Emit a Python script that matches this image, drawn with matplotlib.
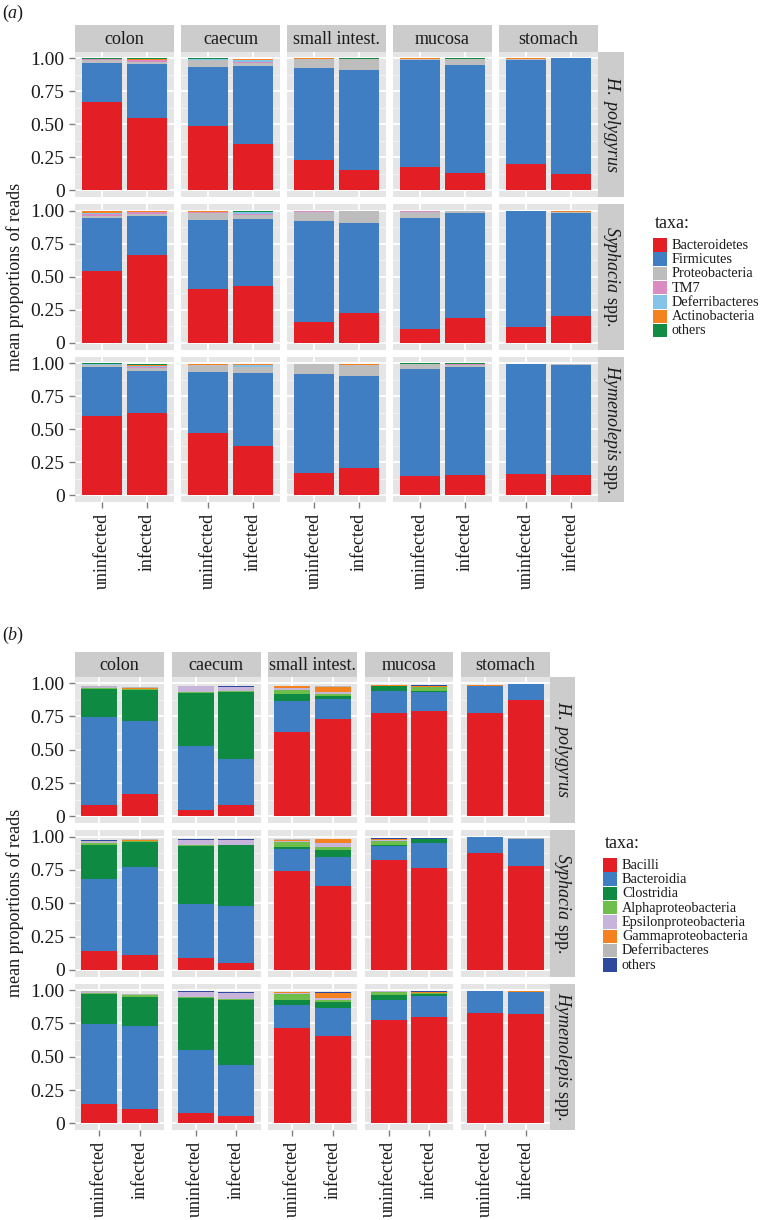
import matplotlib
matplotlib.use("Agg")
import matplotlib.pyplot as plt
from matplotlib.patches import Rectangle

plt.rcParams["font.family"] = ["Liberation Serif", "DejaVu Serif"]
plt.rcParams["mathtext.fontset"] = "custom"
plt.rcParams["mathtext.rm"] = "Liberation Serif"
plt.rcParams["mathtext.it"] = "Liberation Serif:italic"

# ---------------- categories ----------------
sites = ["colon", "caecum", "small intest.", "mucosa", "stomach"]
status = ["uninfected", "infected"]
host_labels = [r"$\mathit{H.\ polygyrus}$", r"$\mathit{Syphacia}$ spp.", r"$\mathit{Hymenolepis}$ spp."]
y_ticks = [0, 0.25, 0.5, 0.75, 1.0]
y_tick_labels = ["0", "0.25", "0.50", "0.75", "1.00"]

# ---------------- panel (a): phyla ----------------
# order of each list: host (H. polygyrus, Syphacia, Hymenolepis) x site (colon, caecum, small intest., mucosa, stomach) x (uninfected, infected)
taxa_a = ["Bacteroidetes", "Firmicutes", "Proteobacteria", "TM7", "Deferribacteres", "Actinobacteria", "others"]
colors_a = ["#E31E24", "#3F7EC2", "#BDBDBD", "#DA8CC0", "#86C3E8", "#F3821F", "#128B43"]
a_bacteroidetes = [0.667, 0.550, 0.485, 0.348, 0.230, 0.152, 0.174, 0.134, 0.200, 0.121,
                   0.540, 0.664, 0.410, 0.432, 0.160, 0.226, 0.108, 0.191, 0.118, 0.200,
                   0.600, 0.620, 0.468, 0.375, 0.169, 0.207, 0.144, 0.154, 0.164, 0.154]
a_firmicutes = [0.298, 0.405, 0.449, 0.591, 0.694, 0.757, 0.811, 0.816, 0.785, 0.877,
                0.403, 0.298, 0.520, 0.503, 0.765, 0.684, 0.835, 0.794, 0.880, 0.785,
                0.367, 0.322, 0.466, 0.549, 0.750, 0.699, 0.813, 0.813, 0.829, 0.828]
a_proteobacteria = [0.020, 0.015, 0.050, 0.025, 0.066, 0.084, 0.010, 0.043, 0.012, 0.001,
                    0.020, 0.012, 0.055, 0.035, 0.068, 0.084, 0.050, 0.009, 0.001, 0.007,
                    0.018, 0.020, 0.050, 0.045, 0.072, 0.078, 0.035, 0.022, 0.003, 0.010]
a_tm7 = [0.005, 0.012, 0.004, 0.008, 0.002, 0.001, 0.001, 0.001, 0.000, 0.000,
         0.015, 0.012, 0.003, 0.003, 0.001, 0.001, 0.001, 0.001, 0.000, 0.000,
         0.004, 0.010, 0.002, 0.003, 0.001, 0.002, 0.001, 0.001, 0.000, 0.000]
a_deferribacteres = [0.000, 0.003, 0.004, 0.015, 0.000, 0.000, 0.000, 0.000, 0.000, 0.000,
                     0.007, 0.004, 0.003, 0.015, 0.000, 0.000, 0.000, 0.000, 0.000, 0.000,
                     0.002, 0.004, 0.002, 0.010, 0.000, 0.000, 0.000, 0.000, 0.000, 0.000]
a_actinobacteria = [0.005, 0.010, 0.003, 0.004, 0.006, 0.003, 0.003, 0.001, 0.001, 0.000,
                    0.010, 0.004, 0.004, 0.003, 0.004, 0.003, 0.002, 0.004, 0.000, 0.003,
                    0.005, 0.010, 0.002, 0.008, 0.004, 0.006, 0.002, 0.002, 0.001, 0.002]
a_others = [0.005, 0.003, 0.003, 0.004, 0.001, 0.002, 0.001, 0.004, 0.001, 0.000,
            0.005, 0.005, 0.002, 0.006, 0.001, 0.001, 0.004, 0.001, 0.000, 0.000,
            0.004, 0.004, 0.007, 0.003, 0.001, 0.001, 0.003, 0.006, 0.000, 0.000]
series_a = [a_bacteroidetes, a_firmicutes, a_proteobacteria, a_tm7, a_deferribacteres, a_actinobacteria, a_others]

# ---------------- panel (b): classes ----------------
taxa_b = ["Bacilli", "Bacteroidia", "Clostridia", "Alphaproteobacteria", "Epsilonproteobacteria",
          "Gammaproteobacteria", "Deferribacteres", "others"]
colors_b = ["#E31E24", "#3F7EC2", "#0F8A43", "#6DBE4B", "#C6B4DA", "#F3821F", "#B8B8B8", "#2E4A9E"]
b_bacilli = [0.0875, 0.170, 0.050, 0.0875, 0.630, 0.730, 0.775, 0.7925, 0.7725, 0.870,
             0.140, 0.108, 0.088, 0.050, 0.744, 0.628, 0.824, 0.761, 0.874, 0.779,
             0.144, 0.108, 0.076, 0.058, 0.713, 0.655, 0.773, 0.796, 0.829, 0.819]
b_bacteroidia = [0.6575, 0.5425, 0.480, 0.345, 0.2325, 0.1525, 0.1675, 0.140, 0.2025, 0.1225,
                 0.540, 0.666, 0.407, 0.427, 0.161, 0.222, 0.106, 0.189, 0.121, 0.201,
                 0.602, 0.620, 0.471, 0.382, 0.176, 0.211, 0.151, 0.161, 0.163, 0.166]
b_clostridia = [0.210, 0.2325, 0.395, 0.5025, 0.055, 0.0175, 0.0325, 0.010, 0.004, 0.001,
                0.257, 0.188, 0.435, 0.458, 0.015, 0.050, 0.010, 0.030, 0.001, 0.001,
                0.224, 0.222, 0.393, 0.487, 0.035, 0.043, 0.036, 0.013, 0.001, 0.001]
b_alphaproteo = [0.010, 0.008, 0.005, 0.003, 0.0325, 0.020, 0.003, 0.025, 0.002, 0.000,
                 0.018, 0.006, 0.010, 0.005, 0.037, 0.020, 0.030, 0.002, 0.000, 0.001,
                 0.012, 0.010, 0.010, 0.005, 0.046, 0.015, 0.025, 0.010, 0.000, 0.001]
b_epsilonproteo = [0.003, 0.003, 0.045, 0.032, 0.010, 0.010, 0.001, 0.002, 0.000, 0.000,
                   0.003, 0.002, 0.035, 0.035, 0.008, 0.030, 0.005, 0.001, 0.000, 0.000,
                   0.002, 0.003, 0.035, 0.043, 0.012, 0.016, 0.005, 0.002, 0.000, 0.000]
b_gammaproteo = [0.002, 0.007, 0.001, 0.001, 0.015, 0.040, 0.004, 0.008, 0.004, 0.000,
                 0.002, 0.003, 0.001, 0.001, 0.010, 0.030, 0.008, 0.002, 0.000, 0.004,
                 0.001, 0.002, 0.001, 0.001, 0.002, 0.035, 0.001, 0.004, 0.000, 0.003]
b_deferribacteres = [0.005, 0.007, 0.001, 0.002, 0.003, 0.006, 0.001, 0.002, 0.002, 0.000,
                     0.007, 0.007, 0.001, 0.001, 0.004, 0.002, 0.002, 0.001, 0.000, 0.001,
                     0.005, 0.003, 0.001, 0.002, 0.002, 0.004, 0.002, 0.001, 0.000, 0.000]
b_others = [0.005, 0.002, 0.005, 0.007, 0.004, 0.005, 0.003, 0.004, 0.001, 0.000,
            0.005, 0.002, 0.005, 0.006, 0.004, 0.003, 0.005, 0.001, 0.000, 0.000,
            0.002, 0.005, 0.004, 0.007, 0.003, 0.006, 0.001, 0.003, 0.000, 0.000]
series_b = [b_bacilli, b_bacteroidia, b_clostridia, b_alphaproteo, b_epsilonproteo,
            b_gammaproteo, b_deferribacteres, b_others]

# ---------------- drawing ----------------
W, H = 761, 1220
fig = plt.figure(figsize=(W / 100, H / 100), dpi=100)

PANEL_BG = "#E5E5E5"
STRIP_BG = "#CCCCCC"
TEXT_C = "#1A1A1A"
TICK_C = "#7F7F7F"
FS = 13
YTICK_FS = 14
XTICK_FS = 13


def px_axes(x0, y0, w, h):
    return fig.add_axes([x0 / W, 1 - (y0 + h) / H, w / W, h / H])


def draw_panel(letter, letter_y, left, top, pw, gap, ph, vgap, strip_h, series, colors, taxa, leg_x, leg_y):
    fig.text(2 / W, 1 - letter_y / H, r"($\mathit{" + letter + "}$)", fontsize=FS, va="center", ha="left", color=TEXT_C)
    xs = [1, 2]
    for r in range(3):
        for c in range(5):
            x0 = left + c * (pw + gap)
            y0 = top + r * (ph + vgap)
            ax = px_axes(x0, y0, pw, ph)
            ax.set_facecolor(PANEL_BG)
            for s in ax.spines.values():
                s.set_visible(False)
            ax.set_xlim(0.4, 2.6)
            ax.set_ylim(-0.05, 1.05)
            ax.set_yticks(y_ticks)
            ax.set_yticks([0.125, 0.375, 0.625, 0.875], minor=True)
            ax.set_xticks(xs)
            ax.grid(which="major", color="white", lw=1.3)
            ax.grid(which="minor", axis="y", color="#F2F2F2", lw=0.7)
            ax.set_axisbelow(True)
            i0 = r * 10 + c * 2
            bottom = [0.0, 0.0]
            for vals, col in zip(series, colors):
                hts = vals[i0:i0 + 2]
                ax.bar(xs, hts, bottom=bottom, width=0.9, color=col, linewidth=0)
                bottom = [b + h for b, h in zip(bottom, hts)]
            ax.tick_params(which="minor", length=0)
            ax.tick_params(which="major", color=TICK_C, length=4.5, width=1.0,
                           labelcolor=TEXT_C, pad=3)
            ax.tick_params(axis="y", labelsize=YTICK_FS)
            ax.tick_params(axis="x", labelsize=XTICK_FS)
            if c == 0:
                ax.set_yticklabels(y_tick_labels)
            else:
                ax.tick_params(axis="y", length=0, labelleft=False)
            if r == 2:
                ax.set_xticklabels(status, rotation=90, va="top", ha="center")
            else:
                ax.tick_params(axis="x", length=0, labelbottom=False)
            if r == 0:
                sa = px_axes(x0, y0 - strip_h, pw, strip_h)
                sa.set_facecolor(STRIP_BG)
                sa.set_xticks([]); sa.set_yticks([])
                for s in sa.spines.values():
                    s.set_visible(False)
                sa.text(0.5, 0.45, sites[c], fontsize=FS, ha="center", va="center",
                        transform=sa.transAxes, color=TEXT_C)
            if c == 4:
                sa = px_axes(x0 + pw, y0, strip_h, ph)
                sa.set_facecolor(STRIP_BG)
                sa.set_xticks([]); sa.set_yticks([])
                for s in sa.spines.values():
                    s.set_visible(False)
                sa.text(0.5, 0.5, host_labels[r], fontsize=FS, ha="center", va="center",
                        rotation=-90, transform=sa.transAxes, color=TEXT_C)
    ymid = top + (3 * ph + 2 * vgap) / 2
    fig.text(15 / W, 1 - ymid / H, "mean proportions of reads", rotation=90, fontsize=FS,
             ha="center", va="center", color=TEXT_C)
    # legend
    fig.text((leg_x + 2) / W, 1 - (leg_y - 14) / H, "taxa:", fontsize=FS, ha="left", va="center", color=TEXT_C)
    kh = 14.3
    for k, (name, col) in enumerate(zip(taxa, colors)):
        ky = leg_y + k * kh
        fig.add_artist(Rectangle((leg_x / W, 1 - (ky + kh - 0.8) / H), 14 / W, (kh - 0.8) / H,
                                 transform=fig.transFigure, facecolor=col, edgecolor="none"))
        fig.text((leg_x + 19) / W, 1 - (ky + kh / 2) / H, name, fontsize=10.3, ha="left",
                 va="center", color=TEXT_C)


draw_panel("a", 13, 75, 51.5, 99, 7, 145.5, 7, 26.4, series_a, colors_a, taxa_a, 653, 238)
draw_panel("b", 635, 75, 676.5, 89, 7.5, 146.5, 7, 25, series_b, colors_b, taxa_b, 603, 858)

fig.savefig("out.png", dpi=100)
